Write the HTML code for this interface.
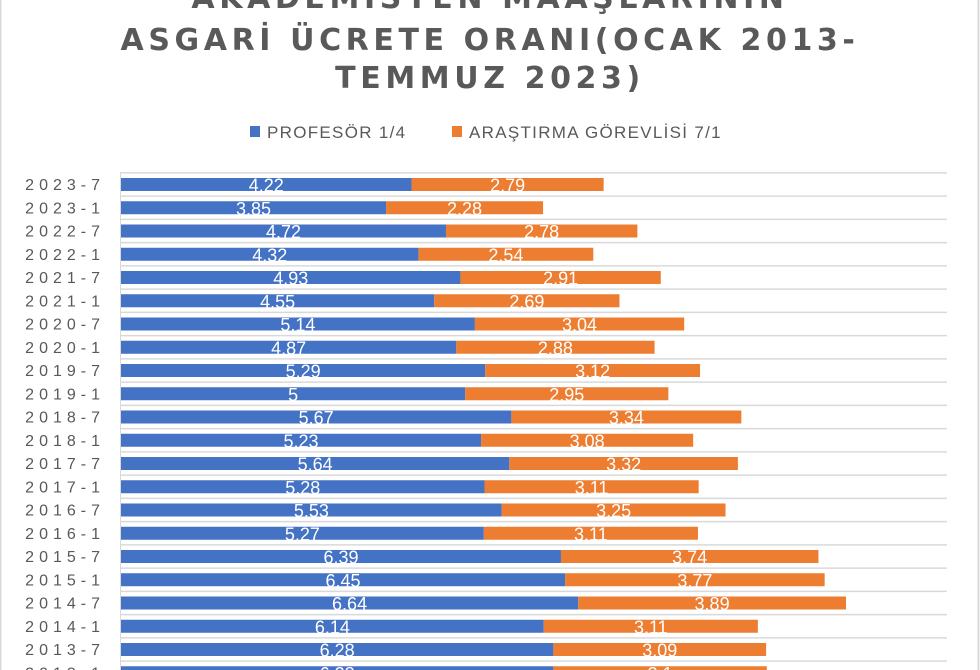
<!DOCTYPE html>
<html><head><meta charset="utf-8"><style>
body{margin:0;background:#fff}
svg{display:block}
.t{font-family:"DejaVu Sans","Liberation Sans",sans-serif;font-weight:bold;fill:#595959;font-size:30px;letter-spacing:4.6px}
.c{font-family:"Liberation Sans",sans-serif;fill:#595959;font-size:16px;letter-spacing:5px}
.v{font-family:"Liberation Sans",sans-serif;fill:#fff;font-size:18px}
.l{font-family:"Liberation Sans",sans-serif;fill:#595959;font-size:17px;letter-spacing:1.3px}
</style></head><body>
<svg width="980" height="670" xmlns="http://www.w3.org/2000/svg">
<rect x="0.5" y="-2" width="978" height="680" fill="#fff" stroke="#d9d9d9" stroke-width="2"/>
<text class="t" x="490" y="8" text-anchor="middle">AKADEMİSYEN MAAŞLARININ</text>
<text class="t" x="490" y="50" text-anchor="middle">ASGARİ ÜCRETE ORANI(OCAK 2013-</text>
<text class="t" x="490" y="88" text-anchor="middle">TEMMUZ 2023)</text>
<rect x="250" y="126" width="10" height="11" fill="#4472c4"/>
<text class="l" x="267" y="138">PROFESÖR 1/4</text>
<rect x="452" y="126" width="10" height="11" fill="#ed7d31"/>
<text class="l" x="469" y="138">ARAŞTIRMA GÖREVLİSİ 7/1</text>
<g id="g"></g>
<line x1="120.5" y1="172" x2="120.5" y2="670" stroke="#d9d9d9"/>
</svg>
<script>
var d=[["2023-7",4.22,2.79],["2023-1",3.85,2.28],["2022-7",4.72,2.78],["2022-1",4.32,2.54],["2021-7",4.93,2.91],["2021-1",4.55,2.69],["2020-7",5.14,3.04],["2020-1",4.87,2.88],["2019-7",5.29,3.12],["2019-1",5,2.95],["2018-7",5.67,3.34],["2018-1",5.23,3.08],["2017-7",5.64,3.32],["2017-1",5.28,3.11],["2016-7",5.53,3.25],["2016-1",5.27,3.11],["2015-7",6.39,3.74],["2015-1",6.45,3.77],["2014-7",6.64,3.89],["2014-1",6.14,3.11],["2013-7",6.28,3.09],["2013-1",6.28,3.1]];
var k=68.85,x0=121,s="";
for(var i=0;i<d.length;i++){var c=184.5+i*23.25,y=c-6.5;
s+='<line x1="121" y1="'+(c-11.6)+'" x2="947" y2="'+(c-11.6)+'" stroke="#d9d9d9" stroke-width="1.5"/>';
var w1=d[i][1]*k,w2=d[i][2]*k;
s+='<rect x="'+x0+'" y="'+y+'" width="'+w1+'" height="13" fill="#4472c4"/>';
s+='<rect x="'+(x0+w1)+'" y="'+y+'" width="'+w2+'" height="13" fill="#ed7d31"/>';
s+='<text class="v" x="'+(x0+w1/2)+'" y="'+(c+7)+'" text-anchor="middle">'+d[i][1]+'</text>';
s+='<text class="v" x="'+(x0+w1+w2/2)+'" y="'+(c+7)+'" text-anchor="middle">'+d[i][2]+'</text>';
s+='<text class="c" x="105" y="'+(c+5.5)+'" text-anchor="end">'+d[i][0]+'</text>';}
document.getElementById("g").innerHTML=s;
</script>
</body></html>
